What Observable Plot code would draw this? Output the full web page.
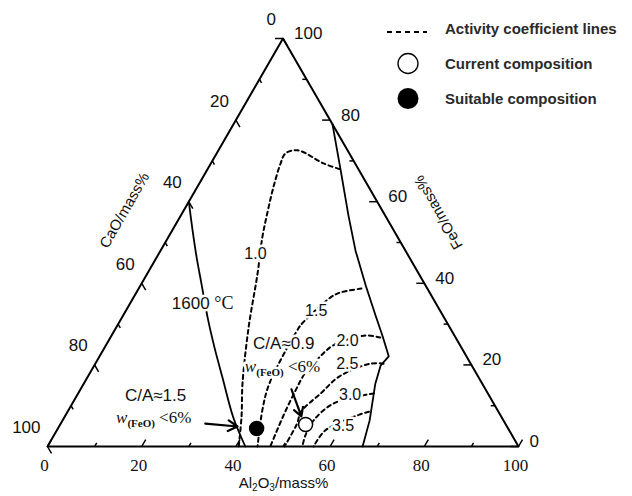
<!DOCTYPE html>
<html><head><meta charset="utf-8">
<script src="https://cdn.jsdelivr.net/npm/d3@7"></script>
<script src="https://cdn.jsdelivr.net/npm/@observablehq/plot@0.6"></script>
<style>
body{margin:0;background:#fff;}
#wrap{position:relative;width:632px;height:496px;overflow:hidden;}
#legend{position:absolute;left:384px;top:11px;font-family:"Liberation Sans",Arial,sans-serif;font-weight:bold;font-size:15px;color:#2a2a2a;}
#legend .row{display:flex;align-items:center;height:35px;}
#legend .row span{margin-left:13px;white-space:nowrap;}
</style></head><body><div id="wrap"></div>
<script>
// ---------- data (compositions in mass%: Al2O3 and FeO; CaO = 100 - Al2O3 - FeO) ----------
const triangleAl  = [0, 100, 0, 0];
const triangleFeO = [0, 0, 100, 0];

// 1600 °C liquidus boundaries
const liqLeftAl   = [0, 4.3, 8.2, 13.0, 18.2, 23.3, 28.7, 35.9, 42.0];
const liqLeftFeO  = [60, 53.0, 46.8, 39.5, 31.6, 24.3, 16.9, 7.1, 0];
const liqRightAl  = [21, 28.4, 35.6, 41.4, 47.8, 53.6, 57.5, 61.4, 60.8, 61.9, 65.2, 66.9];
const liqRightFeO = [79, 67.7, 56.6, 48.0, 39.5, 32.1, 27.2, 22.1, 19.9, 15.4, 6.4, 0];

// activity coefficient lines
const c10Al  = [28, 23.9, 16.8, 14.6, 14.8, 16.2, 18.1, 20.0, 23.4, 28.1, 33.7, 37.5, 40.6];
const c10FeO = [68, 69.4, 72.6, 71.8, 69.4, 63.5, 57.1, 51.2, 42.4, 29.2, 15.4, 7.4, 0];
const c15Al  = [47.3, 43.3, 41.8, 39.0, 38.8, 39.4, 41.2, 44.6];
const c15FeO = [38.7, 37.75, 36.5, 30.2, 28.9, 15.4, 8.8, 0];
const c20Al  = [57.3, 53.9, 48.3, 46.7, 45.7, 45.8, 46.3, 47.3];
const c20FeO = [26.7, 27.2, 24.8, 21.6, 18.1, 13.7, 7.6, 0];
const c25Al  = [61.2, 58.4, 53.4, 51.5, 49.6, 50.2, 50.3];
const c25FeO = [20.3, 20.3, 17.2, 13.0, 8.6, 5.4, 0];
const c30Al  = [62.8, 61.3, 55.4, 53.3, 53.4, 54.1];
const c30FeO = [13, 12.7, 10.5, 6.4, 2.7, 0];
const c35Al  = [64, 62.3, 57.0, 56.5];
const c35FeO = [8.5, 7.8, 3.9, 0];

const contourLabels   = ["1.0", "1.5", "2.0", "2.5", "3.0", "3.5"];
const contourLabelAl  = [20.5, 40.4, 50.7, 53.5, 57.9, 60.2];
const contourLabelFeO = [47.3, 33.3, 26.0, 20.3, 12.7, 5.1];

// compositions
const currentAl = 52.1, currentFeO = 5.4;
const suitableAl = 42.2, suitableFeO = 4.4;

// annotations
const noteTexts = ["1600 °C", "C/A≈1.5", "w(FeO) <6%", "C/A≈0.9", "w(FeO) <6%"];
const noteAl    = [15.4, 16.7, 19.0, 37.5, 40.1];
const noteFeO   = [35.1, 12.5, 7.1, 25.3, 19.6];
const arrowFromAl  = [30.7, 44.8];
const arrowFromFeO = [5.6, 14.0];
const arrowToAl    = [37.9, 50.2];
const arrowToFeO   = [4.9, 7.4];

// axes
const tickValues  = [0, 10, 20, 30, 40, 50, 60, 70, 80, 90, 100];
const tickLabels  = [0, 20, 40, 60, 80, 100];
const axisTitles  = ["Al2O3/mass%", "CaO/mass%", "FeO/mass%"];
const axisTitleAl  = [54.6, -12.6, 54.3];
const axisTitleFeO = [-9.0, 57.9, 57.4];
const axisTitleRotate = [0, -60, -120];

// ---------- ternary projection ----------
const S3 = Math.sqrt(3) / 2;
const tx = (al, feo) => al + feo / 2;
const ty = (al, feo) => feo * S3;
const pts = (al, feo) => al.map((a, i) => ({x: tx(a, feo[i]), y: ty(a, feo[i])}));

const sans = "'Liberation Sans', Arial, sans-serif";
const serif = "'Liberation Serif', 'Times New Roman', serif";
const ink = "#111";

// ticks
const tickLen = v => (v % 20 === 0 ? 1.7 : 0.9);
const ticks = [];
for (const v of tickValues) {
  const L = tickLen(v);
  ticks.push({x1: tx(v, 0), y1: ty(v, 0), x2: tx(v, L), y2: ty(v, L)});
  ticks.push({x1: tx(0, 100 - v), y1: ty(0, 100 - v), x2: tx(L, 100 - v - L), y2: ty(L, 100 - v - L)});
  ticks.push({x1: tx(100 - v, v), y1: ty(100 - v, v), x2: tx(100 - v - L, v), y2: ty(100 - v - L, v)});
}

const contours = [[c10Al, c10FeO], [c15Al, c15FeO], [c20Al, c20FeO], [c25Al, c25FeO], [c30Al, c30FeO], [c35Al, c35FeO]];

const halo = {stroke: "white", strokeWidth: 5, paintOrder: "stroke", strokeLinejoin: "round", fill: ink};

const marks = [
  Plot.line(pts(triangleAl, triangleFeO), {x: "x", y: "y", stroke: "black", strokeWidth: 2}),
  Plot.link(ticks, {x1: "x1", y1: "y1", x2: "x2", y2: "y2", stroke: "black", strokeWidth: 1.5}),
  ...contours.map(([a, f]) => Plot.line(pts(a, f), {x: "x", y: "y", stroke: "black", strokeWidth: 2, strokeDasharray: "4,3.5", curve: "catmull-rom"})),
  Plot.line(pts(liqLeftAl, liqLeftFeO), {x: "x", y: "y", stroke: "black", strokeWidth: 1.8, curve: "catmull-rom"}),
  Plot.line(pts(liqRightAl, liqRightFeO), {x: "x", y: "y", stroke: "black", strokeWidth: 1.8}),
  Plot.text(contourLabels, {x: (d, i) => tx(contourLabelAl[i], contourLabelFeO[i]), y: (d, i) => ty(contourLabelAl[i], contourLabelFeO[i]), text: d => d, fontSize: 16, fontFamily: sans, ...halo}),
  Plot.text(noteTexts, {x: (d, i) => tx(noteAl[i], noteFeO[i]), y: (d, i) => ty(noteAl[i], noteFeO[i]), text: d => d, fontSize: 17, fontFamily: sans, ...halo}),
  Plot.arrow(arrowFromAl, {x1: (d, i) => tx(arrowFromAl[i], arrowFromFeO[i]), y1: (d, i) => ty(arrowFromAl[i], arrowFromFeO[i]), x2: (d, i) => tx(arrowToAl[i], arrowToFeO[i]), y2: (d, i) => ty(arrowToAl[i], arrowToFeO[i]), stroke: "black", strokeWidth: 2.2, headLength: 8}),
  Plot.dot([0], {x: () => tx(suitableAl, suitableFeO), y: () => ty(suitableAl, suitableFeO), r: 7, fill: "black", stroke: "black"}),
  Plot.dot([0], {x: () => tx(currentAl, currentFeO), y: () => ty(currentAl, currentFeO), r: 7, fill: "white", stroke: "black", strokeWidth: 1.5}),
  Plot.text(tickLabels, {x: d => tx(d, 0), y: d => ty(d, 0), text: d => String(d), dx: -3, dy: 19, fontSize: 17, fontFamily: serif, fill: ink}),
  Plot.text(tickLabels, {x: d => tx(0, 100 - d), y: d => ty(0, 100 - d), text: d => String(d), textAnchor: "end", dx: -7, dy: -19, fontSize: 17, fontFamily: sans, fill: ink}),
  Plot.text(tickLabels, {x: d => tx(100 - d, d), y: d => ty(100 - d, d), text: d => String(d), textAnchor: "start", dx: 11, dy: -5, fontSize: 17, fontFamily: sans, fill: ink}),
  ...axisTitles.map((t, i) => Plot.text([t], {x: () => tx(axisTitleAl[i], axisTitleFeO[i]), y: () => ty(axisTitleAl[i], axisTitleFeO[i]), text: d => d, rotate: axisTitleRotate[i], fontSize: 15, fontFamily: sans, fill: ink}))
];

const chart = Plot.plot({
  width: 632, height: 496,
  marginLeft: 47, marginRight: 114, marginTop: 38, marginBottom: 50,
  x: {domain: [0, 100], axis: null},
  y: {domain: [0, 100 * S3], axis: null},
  style: {background: "white", overflow: "visible"},
  marks
});

const sel = d3.select(chart);
sel.selectAll("text").filter(function() { return this.textContent === "w(FeO) <6%"; }).each(function() {
  const t = d3.select(this); t.text("");
  t.append("tspan").attr("font-family", serif).attr("font-style", "italic").attr("font-size", 17).text("w");
  t.append("tspan").attr("font-family", serif).attr("font-weight", "bold").attr("font-size", 11).attr("dy", 4).text("(FeO)");
  t.append("tspan").attr("font-family", serif).attr("font-size", 17).attr("dy", -4).text(" <6%");
});
sel.selectAll("text").filter(function() { return this.textContent === "1600 °C"; }).each(function() {
  const t = d3.select(this); t.text("");
  t.append("tspan").text("1600 ");
  t.append("tspan").attr("font-family", serif).attr("font-size", 18).text("°C");
});
sel.selectAll("text").filter(function() { return this.textContent === "Al2O3/mass%"; }).each(function() {
  const t = d3.select(this); t.text("");
  t.append("tspan").text("Al");
  t.append("tspan").attr("font-size", 10).attr("dy", 3).text("2");
  t.append("tspan").attr("dy", -3).text("O");
  t.append("tspan").attr("font-size", 10).attr("dy", 3).text("3");
  t.append("tspan").attr("dy", -3).text("/mass%");
});

const wrap = document.getElementById("wrap");
wrap.appendChild(chart);

const legend = document.createElement("div");
legend.id = "legend";
legend.innerHTML = `
<div class="row"><svg width="48" height="35"><line x1="3" x2="43" y1="21" y2="21" stroke="black" stroke-width="1.8" stroke-dasharray="5,4"/></svg><span>Activity coefficient lines</span></div>
<div class="row"><svg width="48" height="35"><circle cx="24" cy="17.5" r="10" fill="white" stroke="black" stroke-width="1.3"/></svg><span>Current composition</span></div>
<div class="row"><svg width="48" height="35"><circle cx="24" cy="17.5" r="10.5" fill="black"/></svg><span>Suitable composition</span></div>`;
wrap.appendChild(legend);
</script></body></html>
